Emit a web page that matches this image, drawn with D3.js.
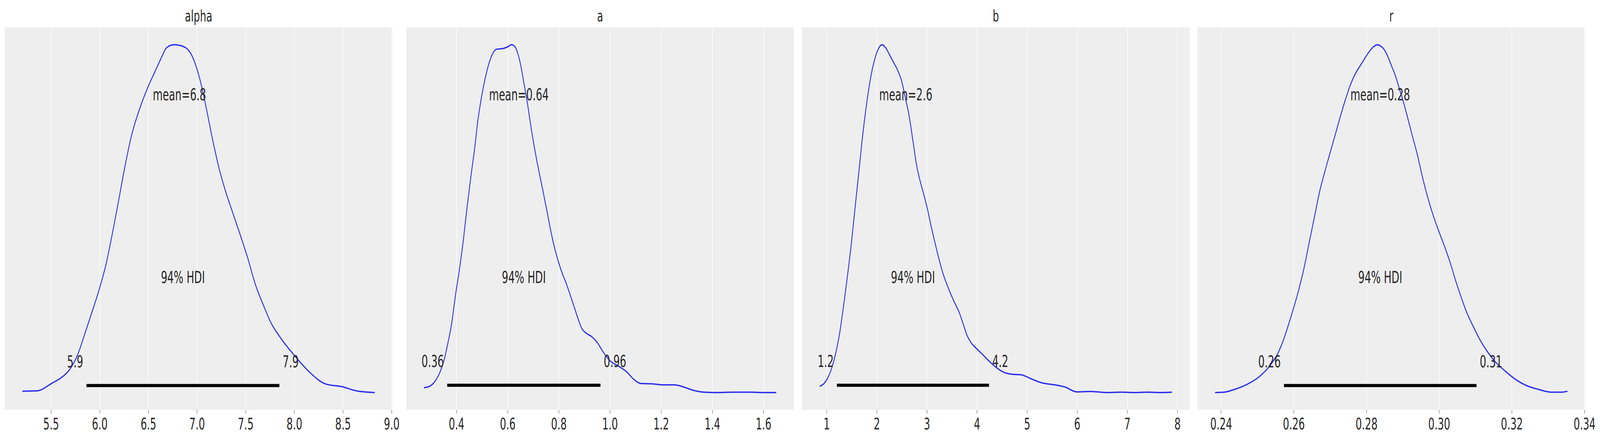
<!DOCTYPE html>
<meta charset="utf-8">
<style>
  html, body { margin: 0; padding: 0; background: #fff; overflow: hidden; }
  svg { display: block; }
  svg text { font-family: "DejaVu Sans", sans-serif; fill: #262626; }
  .bg { fill: #eeeeee; }
  .grid line { stroke: #fff; stroke-width: 2; }
  .grid path { display: none; }
  .xaxis path { display: none; }
  .xaxis line { stroke: #8c8c8c; stroke-width: 2.5; }
  .xaxis text { font-size: 41px; fill: #262626; }
  .kde { fill: none; stroke: #2a2eec; stroke-width: 3.5; }
  .hdi { stroke: #000; stroke-width: 8; stroke-linecap: butt; }
  .note { font-size: 42px; }
  .title { font-size: 41px; text-anchor: middle; }
</style>
<svg viewBox="0 0 6647 1127" preserveAspectRatio="none"></svg>
<script src="https://d3js.org/d3.v7.min.js"></script>
<script>

// posterior KDE curves (density relative to each peak)
var names = ["alpha", "a", "b", "r"];

var alphaX = [5.206, 5.359, 5.505, 5.638, 5.691, 5.771, 5.850, 5.917, 5.996, 6.063, 6.129, 6.195, 6.262, 6.328, 6.407, 6.500, 6.567, 6.633, 6.686, 6.766, 6.859, 6.938, 6.991, 7.044, 7.097, 7.164, 7.230, 7.296, 7.363, 7.442, 7.522, 7.602, 7.681, 7.761, 7.854, 8.000, 8.159, 8.318, 8.504, 8.636, 8.827];
var alphaY = [0.005, 0.006, 0.027, 0.051, 0.067, 0.108, 0.172, 0.229, 0.298, 0.367, 0.456, 0.553, 0.654, 0.740, 0.813, 0.881, 0.922, 0.962, 0.991, 1.000, 0.995, 0.974, 0.938, 0.885, 0.816, 0.723, 0.642, 0.577, 0.521, 0.456, 0.387, 0.310, 0.253, 0.201, 0.160, 0.108, 0.059, 0.026, 0.017, 0.006, 0.001];

var aX = [0.273, 0.295, 0.315, 0.336, 0.351, 0.366, 0.381, 0.396, 0.411, 0.426, 0.441, 0.456, 0.472, 0.482, 0.497, 0.512, 0.527, 0.542, 0.557, 0.582, 0.603, 0.615, 0.628, 0.638, 0.651, 0.663, 0.678, 0.693, 0.708, 0.723, 0.739, 0.754, 0.769, 0.784, 0.799, 0.814, 0.829, 0.844, 0.859, 0.875, 0.890, 0.905, 0.930, 0.950, 0.975, 1.001, 1.036, 1.066, 1.096, 1.121, 1.167, 1.207, 1.252, 1.288, 1.328, 1.368, 1.419, 1.479, 1.550, 1.600, 1.650];
var aY = [0.014, 0.018, 0.031, 0.059, 0.091, 0.140, 0.197, 0.278, 0.350, 0.432, 0.529, 0.618, 0.707, 0.772, 0.845, 0.902, 0.946, 0.975, 0.987, 0.989, 0.995, 1.000, 0.995, 0.979, 0.942, 0.893, 0.829, 0.756, 0.691, 0.634, 0.577, 0.521, 0.464, 0.415, 0.375, 0.342, 0.314, 0.282, 0.249, 0.213, 0.184, 0.172, 0.160, 0.144, 0.115, 0.091, 0.075, 0.059, 0.036, 0.026, 0.025, 0.022, 0.022, 0.016, 0.006, 0.001, 0.000, 0.001, 0.001, 0.000, 0.000];

var bX = [0.861, 0.949, 1.026, 1.103, 1.180, 1.257, 1.334, 1.411, 1.489, 1.566, 1.643, 1.720, 1.797, 1.874, 1.952, 2.029, 2.106, 2.183, 2.260, 2.337, 2.425, 2.492, 2.569, 2.646, 2.723, 2.800, 2.877, 2.954, 3.016, 3.083, 3.160, 3.237, 3.314, 3.392, 3.469, 3.546, 3.649, 3.726, 3.803, 3.880, 4.009, 4.137, 4.266, 4.395, 4.523, 4.677, 4.883, 5.089, 5.295, 5.552, 5.757, 5.989, 6.272, 6.580, 6.889, 7.146, 7.403, 7.660, 7.892];
var bY = [0.018, 0.026, 0.043, 0.071, 0.112, 0.168, 0.245, 0.330, 0.423, 0.529, 0.634, 0.740, 0.829, 0.902, 0.954, 0.987, 1.000, 0.990, 0.970, 0.949, 0.924, 0.898, 0.849, 0.796, 0.723, 0.650, 0.602, 0.561, 0.525, 0.480, 0.432, 0.387, 0.346, 0.314, 0.286, 0.261, 0.229, 0.197, 0.164, 0.144, 0.124, 0.106, 0.087, 0.071, 0.059, 0.053, 0.051, 0.039, 0.028, 0.022, 0.016, 0.002, 0.003, 0.000, 0.001, 0.000, 0.001, 0.000, 0.001];

var rX = [0.23837, 0.24085, 0.24369, 0.24723, 0.25007, 0.25255, 0.25433, 0.25574, 0.25716, 0.25858, 0.26000, 0.26142, 0.26284, 0.26425, 0.26567, 0.26709, 0.26851, 0.26993, 0.27135, 0.27277, 0.27418, 0.27560, 0.27702, 0.27844, 0.27986, 0.28128, 0.28234, 0.28305, 0.28376, 0.28482, 0.28589, 0.28695, 0.28801, 0.28908, 0.29014, 0.29120, 0.29262, 0.29404, 0.29546, 0.29688, 0.29830, 0.30007, 0.30184, 0.30326, 0.30468, 0.30610, 0.30752, 0.30929, 0.31106, 0.31319, 0.31532, 0.31815, 0.32099, 0.32383, 0.32737, 0.33092, 0.33376, 0.33532];
var rY = [0.001, 0.002, 0.010, 0.025, 0.043, 0.067, 0.091, 0.116, 0.152, 0.197, 0.245, 0.298, 0.359, 0.432, 0.504, 0.577, 0.634, 0.687, 0.739, 0.792, 0.841, 0.885, 0.918, 0.942, 0.966, 0.987, 0.997, 1.000, 0.997, 0.987, 0.966, 0.938, 0.910, 0.873, 0.837, 0.796, 0.739, 0.683, 0.618, 0.561, 0.512, 0.460, 0.411, 0.367, 0.318, 0.274, 0.233, 0.193, 0.156, 0.120, 0.091, 0.063, 0.039, 0.022, 0.010, 0.002, 0.002, 0.005];

var means      = [6.82, 0.644, 2.58, 0.2838];
var meanLabels = ["6.8", "0.64", "2.6", "0.28"];
var hdiLow     = [5.864, 0.364, 1.206, 0.2573];
var hdiHigh    = [7.847, 0.963, 4.24, 0.3103];
var lowLabels  = ["5.9", "0.36", "1.2", "0.26"];
var highLabels = ["7.9", "0.96", "4.2", "0.31"];
var hdiProb = "94%";

var tickValues = [
  [5.5, 6.0, 6.5, 7.0, 7.5, 8.0, 8.5, 9.0],
  [0.4, 0.6, 0.8, 1.0, 1.2, 1.4, 1.6],
  [1, 2, 3, 4, 5, 6, 7, 8],
  [0.24, 0.26, 0.28, 0.30, 0.32, 0.34]
];
var tickFormats = [".1f", ".1f", "d", ".2f"];

var curvesX = [alphaX, aX, bX, rX];
var curvesY = [alphaY, aY, bY, rY];

// layout, drawn in a 6647x1127 frame that is stretched to the window
var svg = d3.select("svg")
      .attr("width", window.innerWidth)
      .attr("height", window.innerHeight),
    panelLeft = [20, 1688, 3332, 4975],
    panelWidth = 1610,
    panelTop = 70,
    panelBottom = 1050;

names.forEach(function(name, i) {
  var xs = curvesX[i], ys = curvesY[i];
  var ext = d3.extent(xs), pad = (ext[1] - ext[0]) * 0.05;
  var yext = d3.extent(ys), ypad = (yext[1] - yext[0]) * 0.05;

  var x = d3.scaleLinear()
      .domain([ext[0] - pad, ext[1] + pad])
      .range([panelLeft[i], panelLeft[i] + panelWidth]);
  var y = d3.scaleLinear()
      .domain([yext[0] - ypad, yext[1] + ypad])
      .range([panelBottom, panelTop]);

  // annotations sit at fractions of the top of the y range
  var yTop = y.domain()[1];

  var g = svg.append("g");

  g.append("rect").attr("class", "bg")
      .attr("x", panelLeft[i]).attr("y", panelTop)
      .attr("width", panelWidth).attr("height", panelBottom - panelTop);

  g.append("g").attr("class", "grid")
      .attr("transform", "translate(0," + panelBottom + ")")
      .call(d3.axisBottom(x).tickValues(tickValues[i]).tickSize(-(panelBottom - panelTop)).tickFormat(""));

  g.append("g").attr("class", "xaxis")
      .attr("transform", "translate(0," + panelBottom + ")")
      .call(d3.axisBottom(x).tickValues(tickValues[i]).tickSize(9).tickPadding(12)
        .tickFormat(d3.format(tickFormats[i])));

  var line = d3.line()
      .x(function(d) { return x(d[0]); })
      .y(function(d) { return y(d[1]); })
      .curve(d3.curveMonotoneX);

  g.append("path").attr("class", "kde")
      .attr("d", line(d3.zip(xs, ys)));

  g.append("line").attr("class", "hdi")
      .attr("x1", x(hdiLow[i])).attr("x2", x(hdiHigh[i]))
      .attr("y1", y(yTop * 0.02)).attr("y2", y(yTop * 0.02));

  g.append("text").attr("class", "note")
      .attr("x", x(hdiLow[i])).attr("y", y(yTop * 0.07))
      .attr("dx", "-0.32em").attr("text-anchor", "end")
      .text(lowLabels[i]);

  g.append("text").attr("class", "note")
      .attr("x", x(hdiHigh[i])).attr("y", y(yTop * 0.07))
      .attr("dx", "0.32em").attr("text-anchor", "start")
      .text(highLabels[i]);

  g.append("text").attr("class", "note")
      .attr("x", x((hdiLow[i] + hdiHigh[i]) / 2)).attr("y", y(yTop * 0.3))
      .attr("text-anchor", "middle")
      .text(hdiProb + " HDI");

  g.append("text").attr("class", "note")
      .attr("x", x(means[i])).attr("y", y(yTop * 0.8))
      .attr("text-anchor", "middle")
      .text("mean=" + meanLabels[i]);

  g.append("text").attr("class", "title")
      .attr("x", panelLeft[i] + panelWidth / 2).attr("y", 55)
      .text(name);
});

</script>
